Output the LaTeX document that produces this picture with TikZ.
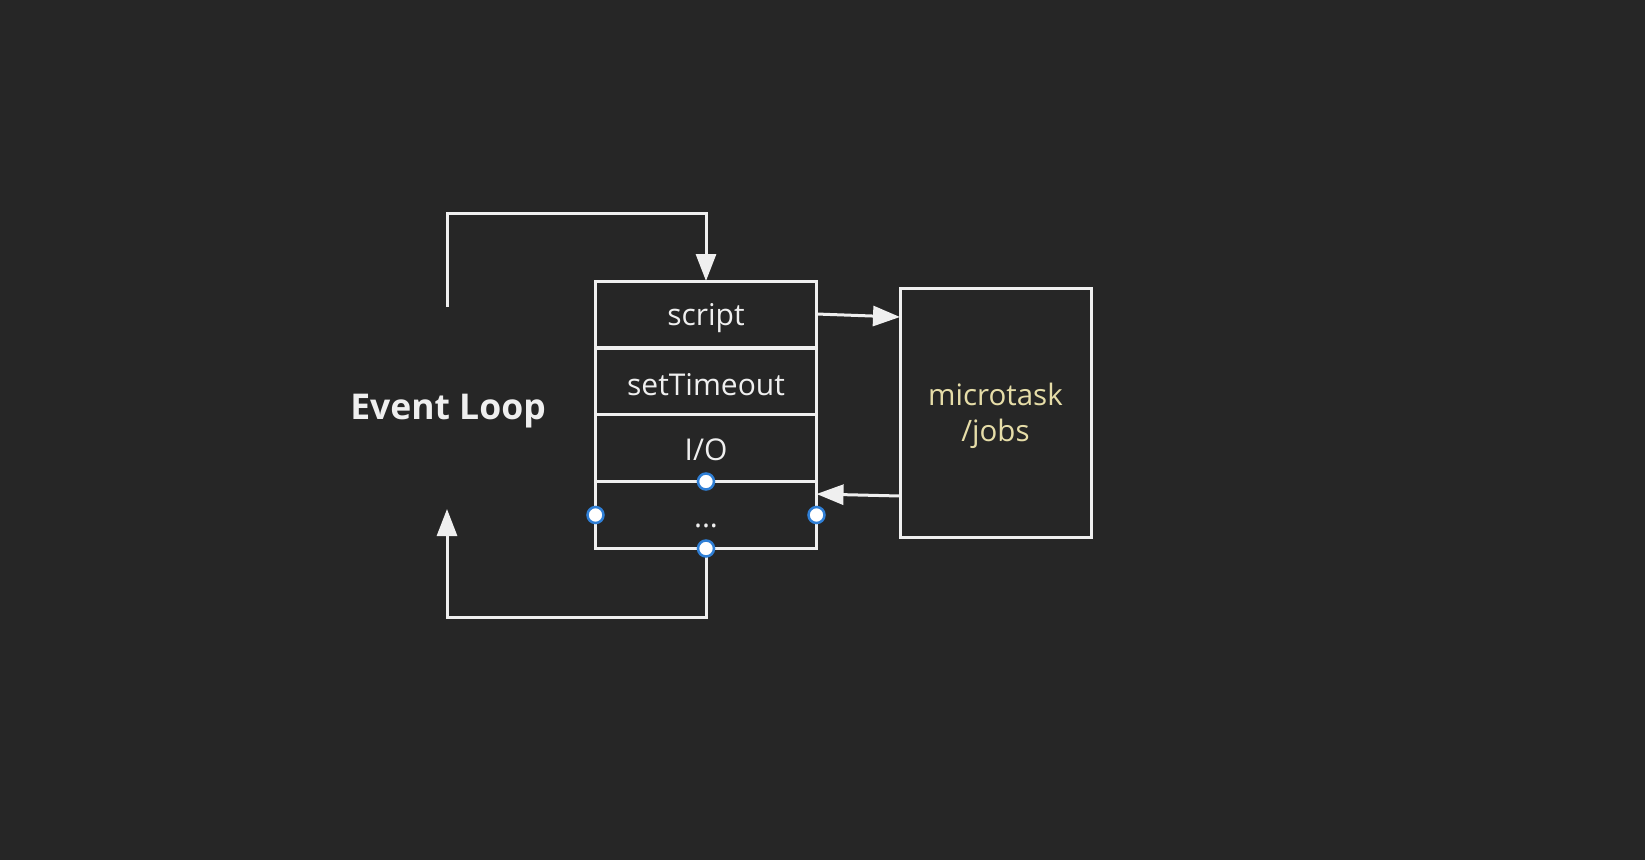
\documentclass[tikz,border=0pt]{standalone}
\usepackage{fontspec}
\setmainfont{Open Sans}
\usetikzlibrary{arrows.meta,calc}
\definecolor{bg}{HTML}{262626}
\definecolor{ln}{HTML}{EFEFEF}
\definecolor{mt}{HTML}{E6DDA8}
\definecolor{hb}{HTML}{2F7FD6}
\newcommand{\dn}[2]{\raisebox{-#1}[\height][\depth]{#2}}
\tikzset{
  cell/.style={draw=ln, line width=3pt, minimum width=221pt, minimum height=67pt, inner sep=0pt, outer sep=0pt, text=ln, font=\fontsize{30}{36}\selectfont},
  conn/.style={draw=ln, line width=3pt, -{Triangle[length=27pt,width=20pt]}},
  handle/.style={circle, fill=white, draw=hb, line width=2.5pt, minimum size=16pt, inner sep=0pt}
}
\begin{document}
\begin{tikzpicture}[x=1pt,y=-1pt]
\fill[bg] (0,0) rectangle (1645,860);
\useasboundingbox (0,0) rectangle (1645,860);
\node[cell] (script) at (706,314.5) {\dn{4pt}{script}};
\node[cell] (timeout) at (706,381) {\dn{4pt}{setTimeout}};
\node[cell] (io) at (706,448) {\dn{2pt}{I/O}};
\node[cell] (dots) at (706,515) {\dn{11pt}{...}};
\node[draw=ln, line width=3pt, minimum width=191pt, minimum height=249pt, inner sep=0pt, outer sep=0pt, text=mt, font=\fontsize{29.5}{36}\selectfont] (micro) at (995.5,412.5) {\dn{4pt}{\begin{tabular}{@{}c@{}}microtask\\/jobs\end{tabular}}};
\node[text=ln, font=\fontsize{35.5}{40}\selectfont\bfseries] (loop) at (448,411) {Event Loop};
\coordinate (lt) at (447,307);
\coordinate (lb) at (447,509);
\draw[conn] (lt) |- ([yshift=68pt]script.north) -- (script.north);
\draw[conn] (dots.south) -- ++(0,69) -| (lb);
\draw[conn] (script.east |- 0,314) -- (micro.west |- 0,317);
\draw[conn] (micro.west |- 0,496) -- (dots.east |- 0,494);
\node[handle] (h1) at (io.south) {};
\node[handle] (h2) at (dots.west) {};
\node[handle] (h3) at (dots.east) {};
\node[handle] (h4) at (dots.south) {};
\end{tikzpicture}
\end{document}
